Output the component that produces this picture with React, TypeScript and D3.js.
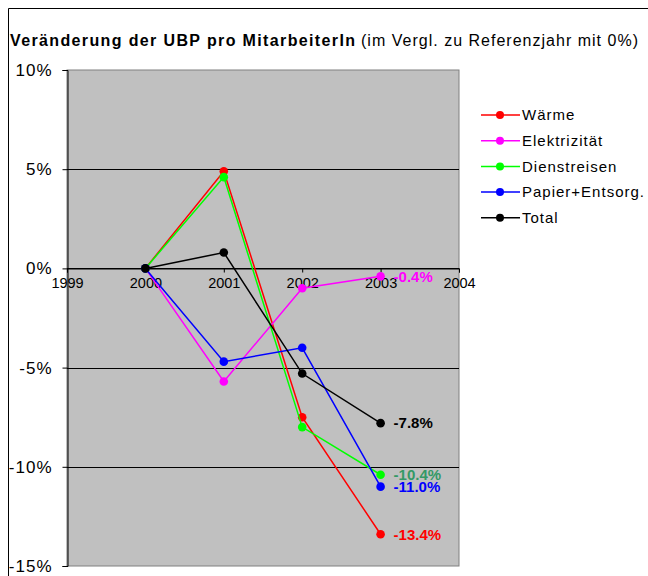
import { useRef, useEffect } from "react";
import * as d3 from "d3";

const years = [2000, 2001, 2002, 2003];
const xTicks = [1999, 2000, 2001, 2002, 2003, 2004];
const yTicks = [10, 5, 0, -5, -10, -15];

const waerme = [0, 4.9, -7.5, -13.4];
const elektrizitaet = [0, -5.7, -1.0, -0.4];
const dienstreisen = [0, 4.6, -8.0, -10.4];
const papier = [0, -4.7, -4.0, -11.0];
const total = [0, 0.8, -5.3, -7.8];

const seriesNames = ["Wärme", "Elektrizität", "Dienstreisen", "Papier+Entsorg.", "Total"];
const seriesColors = ["#ff0000", "#ff00ff", "#00ff00", "#0000ff", "#000000"];
const labelColors = ["#ff0000", "#ff00ff", "#339966", "#0000ff", "#000000"];

const App = () => {
  const svgRef = useRef(null);

  useEffect(() => {
    const root = d3.select(svgRef.current);
    root.selectAll("*").remove();

    const width = 648;
    const height = 576;
    const plot = { left: 67, right: 459, top: 70, bottom: 566 };
    const font = "Liberation Sans, Arial, sans-serif";

    const allValues = [waerme, elektrizitaet, dienstreisen, papier, total];

    const x = d3.scaleLinear().domain([1999, 2004]).range([plot.left, plot.right]);
    const y = d3.scaleLinear().domain([-15, 10]).range([plot.bottom, plot.top]);

    root.attr("width", width).attr("height", height);

    // outer frame
    root
      .append("path")
      .attr("d", `M8.5,${height + 5} V8.5 H${width + 5}`)
      .attr("fill", "none")
      .attr("stroke", "#000")
      .attr("stroke-width", 1);

    // title, two parts stretched to the reference width
    root
      .append("text")
      .attr("x", 10)
      .attr("y", 46)
      .attr("textLength", 345)
      .attr("lengthAdjust", "spacing")
      .style("font-family", font)
      .style("font-size", "16px")
      .style("font-weight", "bold")
      .attr("fill", "#000")
      .text("Veränderung der UBP pro MitarbeiterIn");
    root
      .append("text")
      .attr("x", 361)
      .attr("y", 46)
      .attr("textLength", 277)
      .attr("lengthAdjust", "spacing")
      .style("font-family", font)
      .style("font-size", "16px")
      .attr("fill", "#000")
      .text("(im Vergl. zu Referenzjahr mit 0%)");

    // plot background
    root
      .append("rect")
      .attr("x", plot.left)
      .attr("y", plot.top)
      .attr("width", plot.right - plot.left)
      .attr("height", plot.bottom - plot.top)
      .attr("fill", "#c0c0c0")
      .attr("stroke", "#808080")
      .attr("stroke-width", 1);

    // gridlines
    root
      .append("g")
      .selectAll("line")
      .data(yTicks.filter((t) => t !== 10 && t !== -15))
      .enter()
      .append("line")
      .attr("x1", plot.left)
      .attr("x2", plot.right)
      .attr("y1", (d) => Math.round(y(d)) + 0.5)
      .attr("y2", (d) => Math.round(y(d)) + 0.5)
      .attr("stroke", "#000")
      .attr("stroke-width", 1);

    // y axis
    const yAxis = root
      .append("g")
      .attr("transform", `translate(${plot.left + 0.5},0)`)
      .call(
        d3
          .axisLeft(y)
          .tickValues(yTicks)
          .tickSize(5)
          .tickPadding(10)
          .tickFormat((d) => `${d}%`)
      );
    yAxis.select(".domain").attr("stroke", "#000");
    yAxis
      .selectAll("text")
      .style("font-family", font)
      .style("font-size", "17px")
      .style("letter-spacing", "1px")
      .attr("fill", "#000");

    // x axis at zero
    const xAxis = root
      .append("g")
      .attr("transform", `translate(0,${Math.round(y(0)) + 0.5})`)
      .call(d3.axisBottom(x).tickValues(xTicks).tickSize(4).tickPadding(5).tickFormat(d3.format("d")));
    xAxis.select(".domain").attr("stroke", "#000");
    xAxis
      .selectAll("text")
      .style("font-family", font)
      .style("font-size", "14.5px")
      .attr("fill", "#000");

    const line = d3
      .line()
      .x((d, i) => x(years[i]))
      .y((d) => y(d));

    allValues.forEach((vals, si) => {
      const g = root.append("g");
      g.append("path")
        .datum(vals)
        .attr("d", line)
        .attr("fill", "none")
        .attr("stroke", seriesColors[si])
        .attr("stroke-width", 1.5);
      g.selectAll("circle")
        .data(vals)
        .enter()
        .append("circle")
        .attr("cx", (d, i) => x(years[i]))
        .attr("cy", (d) => y(d))
        .attr("r", 4.3)
        .attr("fill", seriesColors[si]);
      const last = vals[vals.length - 1];
      g.append("text")
        .attr("x", x(years[years.length - 1]) + 13)
        .attr("y", y(last))
        .attr("dy", "0.35em")
        .style("font-family", font)
        .style("font-size", "15px")
        .style("font-weight", "bold")
        .attr("fill", labelColors[si])
        .text(`${last.toFixed(1)}%`);
    });

    // legend
    const legend = root
      .append("g")
      .selectAll("g")
      .data(seriesNames)
      .enter()
      .append("g")
      .attr("transform", (d, i) => `translate(481,${115 + i * 25.7})`);
    legend
      .append("line")
      .attr("x1", 0)
      .attr("x2", 39)
      .attr("stroke", (d, i) => seriesColors[i])
      .attr("stroke-width", 1.5);
    legend
      .append("circle")
      .attr("cx", 19)
      .attr("r", 4)
      .attr("fill", (d, i) => seriesColors[i]);
    legend
      .append("text")
      .attr("x", 41)
      .attr("dy", "0.35em")
      .style("font-family", font)
      .style("font-size", "15px")
      .style("letter-spacing", "1px")
      .attr("fill", "#000")
      .text((d) => d);
  }, []);

  return (
    <svg
      ref={svgRef}
      style={{ position: "absolute", left: 0, top: 0, background: "#fff" }}
    ></svg>
  );
};

export default App;
